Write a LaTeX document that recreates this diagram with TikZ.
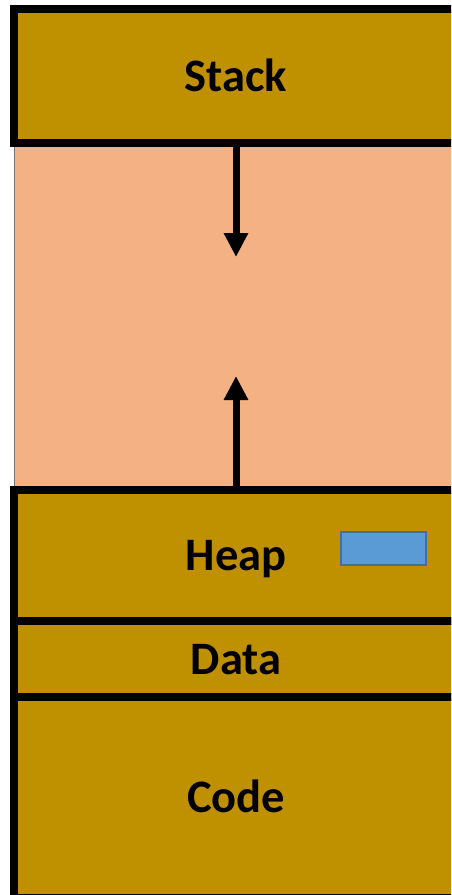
\documentclass[tikz,border=0pt]{standalone}
\usepackage{fontspec}
\setmainfont{Carlito}
\usetikzlibrary{arrows.meta}
\definecolor{segfill}{HTML}{BF9000}
\definecolor{freefill}{HTML}{F4B183}
\definecolor{blockfill}{HTML}{5B9BD5}
\definecolor{blockline}{HTML}{41719C}
\begin{document}
\begin{tikzpicture}[x=1pt, y=-1pt,
  seg/.style={draw=black, line width=8pt, fill=segfill, minimum width=444pt,
    inner sep=0pt, font=\fontsize{46.5}{56}\selectfont\bfseries,
    text height=30pt, text depth=0pt},
  freebox/.style={draw=black!55, line width=1pt, fill=freefill,
    minimum width=444pt, inner sep=0pt},
  block/.style={draw=blockline, line width=2pt, fill=blockfill,
    minimum width=85pt, minimum height=33pt, inner sep=0pt},
  growth/.style={line width=7pt, -{Triangle[length=24pt, width=23pt]}}]
\useasboundingbox (0,0) rectangle (451,895);
\clip (0,0) rectangle (451,895);
\fill[white] (0,0) rectangle (451,895);

% free space between stack and heap
\node[freebox, minimum height=347pt] (free) at (236,316.5) {};

% memory segments
\node[seg, minimum height=134pt] (stack) at (236,76) {Stack};
\node[seg, minimum height=131pt] (heap) at (236,555.5) {Heap};
\node[seg, minimum height=76pt] (data) at (236,659) {Data};
\node[seg, minimum height=201pt] (code) at (236,797.5) {Code};

% an allocated block on the heap
\node[block] (alloc) at (383.5,548.5) {};

% growth directions
\coordinate (stacktip) at (236,257);
\coordinate (heaptip) at (236,376);
\draw[growth] (stack.south) -- (stacktip);
\draw[growth] (heap.north) -- (heaptip);
\end{tikzpicture}
\end{document}
